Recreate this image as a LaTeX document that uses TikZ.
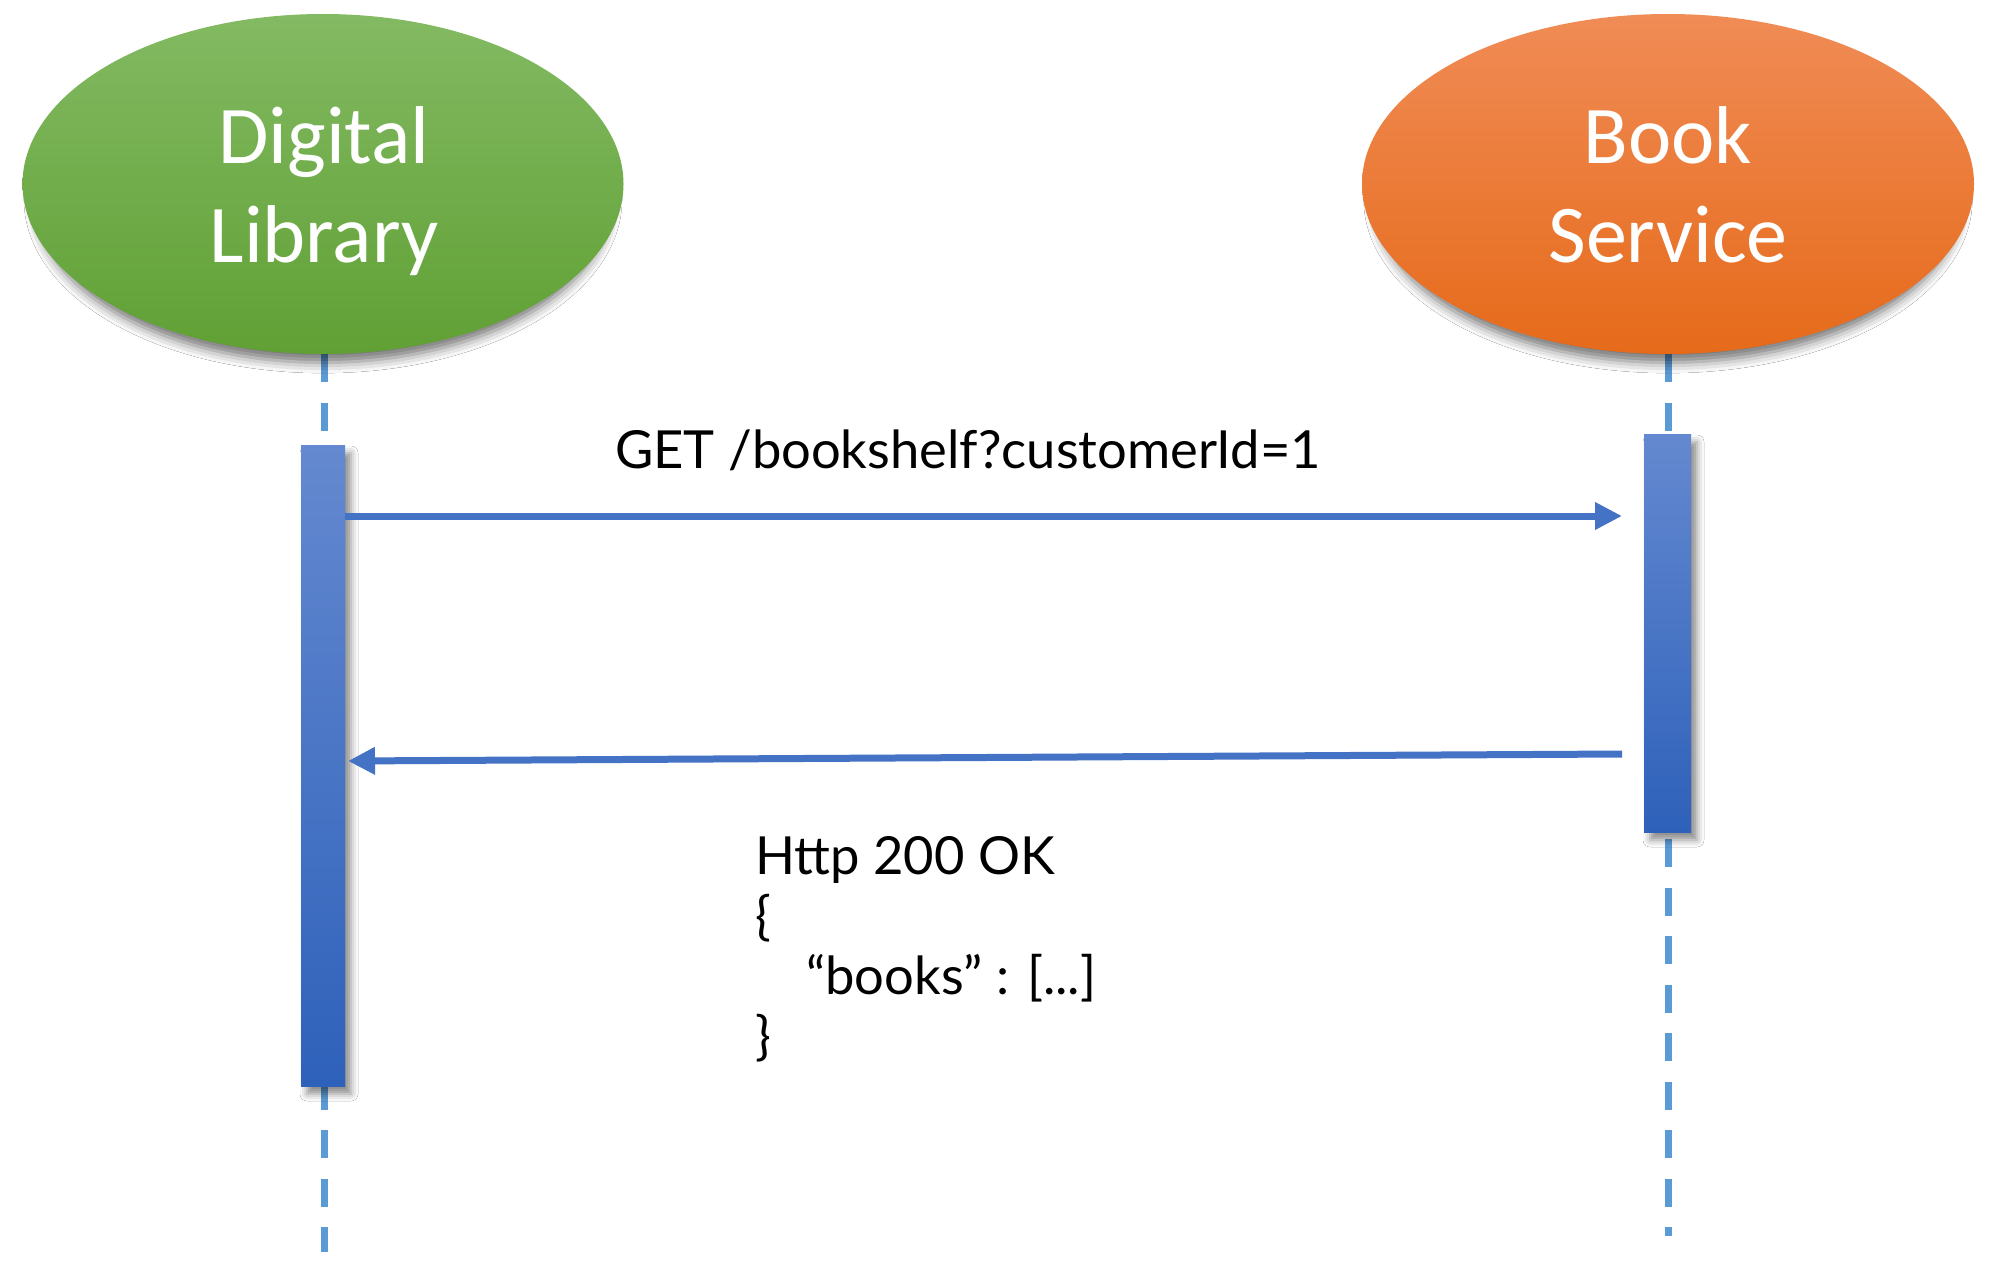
\documentclass[tikz,border=0pt]{standalone}
\usepackage{fontspec}
\setmainfont{Lato}
\newfontfamily\calfont{Carlito}
\usetikzlibrary{shapes.geometric,arrows.meta,shadows.blur}
\definecolor{greenTop}{RGB}{131,186,99}
\definecolor{greenBot}{RGB}{96,160,52}
\definecolor{orangeTop}{RGB}{240,140,86}
\definecolor{orangeBot}{RGB}{230,106,26}
\definecolor{barTop}{RGB}{100,137,208}
\definecolor{barBot}{RGB}{46,97,186}
\definecolor{arrowBlue}{RGB}{68,114,196}
\definecolor{lifeBlue}{RGB}{91,155,213}
\begin{document}
\begin{tikzpicture}[x=1pt,y=-1pt,
  actor/.style={ellipse, minimum width=601pt, minimum height=340pt, inner sep=0pt, draw=none,
    blur shadow={shadow xshift=0pt, shadow yshift=-16pt, shadow scale=0.96, shadow blur radius=11pt, shadow opacity=55}},
  actortext/.style={text=white, inner sep=0pt, anchor=base, font=\calfont\fontsize{82}{99}\selectfont},
  bar/.style={rectangle, draw=none, inner sep=0pt, top color=barTop, bottom color=barBot,
    blur shadow={shadow xshift=6pt, shadow yshift=-8pt, shadow blur radius=7pt, shadow opacity=45}},
  lifeline/.style={draw=lifeBlue, line width=7pt, dash pattern=on 28pt off 20.5pt},
  msg/.style={draw=arrowBlue, line width=7pt, -{Triangle[length=27pt,width=26pt]}},
  msgtext/.style={inner sep=0pt, font=\fontsize{52.5}{60}\selectfont, text=black}
]
\fill[white] (0,0) rectangle (1998,1274);
\useasboundingbox (0,0) rectangle (1998,1274);

% lifelines
\coordinate (dlTop) at (324,354);
\coordinate (dlEnd) at (324,1252);
\coordinate (bsTop) at (1668,354);
\coordinate (bsEnd) at (1668,1236);
\draw[lifeline] (dlTop) -- (dlEnd);
\draw[lifeline] (bsTop) -- (bsEnd);

% actors
\node[actor, top color=greenTop, bottom color=greenBot] (dl) at (323,184) {};
\node[actor, top color=orangeTop, bottom color=orangeBot, minimum width=612pt] (bs) at (1668,184) {};
\node[actortext] (dlA) at (324,163) {Digital};
\node[actortext] (dlB) at (324,262) {Library};
\node[actortext] (bsA) at (1668,163) {Book};
\node[actortext] (bsB) at (1668,262) {Service};

% activation bars
\node[bar, minimum width=44pt, minimum height=641pt] (dlBar) at (323,765.5) {};
\node[bar, minimum width=47pt, minimum height=398pt] (bsBar) at (1667.5,633) {};

% messages
\coordinate (reqS) at (345,516);
\coordinate (reqE) at (1622,516);
\coordinate (resS) at (1622,754);
\coordinate (resE) at (348,761);
\draw[msg] (reqS) -- (reqE);
\draw[msg] (resS) -- (resE);

\node[msgtext, anchor=base] (req) at (968,468) {GET /bookshelf?customerId=1};
\node[msgtext, anchor=base west] (r1) at (755,874) {Http 200 OK};
\node[msgtext, anchor=base west] (r2) at (755,934) {\{};
\node[msgtext, anchor=base west] (r3) at (806,994) {“books” : [...]};
\node[msgtext, anchor=base west] (r4) at (755,1054) {\}};
\end{tikzpicture}
\end{document}
